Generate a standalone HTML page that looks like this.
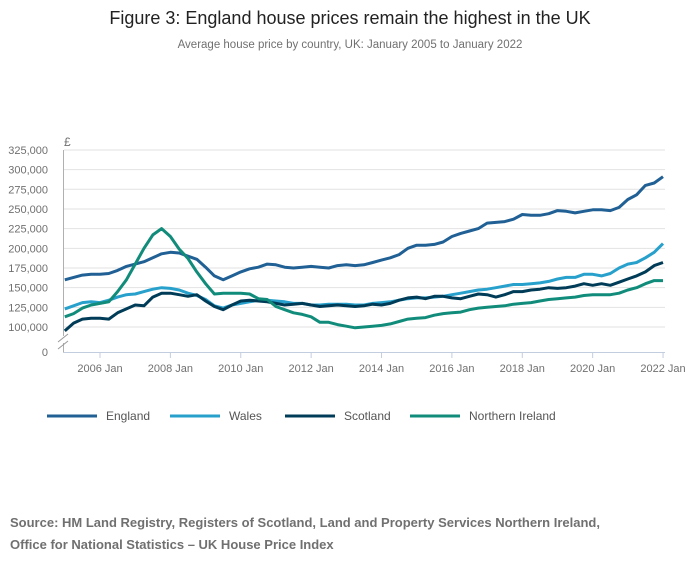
<!DOCTYPE html>
<html><head><meta charset="utf-8"><style>
body{margin:0;background:#fff;font-family:"Liberation Sans",sans-serif}
</style></head><body>
<svg width="700" height="574" viewBox="0 0 700 574" xmlns="http://www.w3.org/2000/svg">
<text x="350" y="24" text-anchor="middle" font-size="18" fill="#222">Figure 3: England house prices remain the highest in the UK</text>
<text x="350" y="48" text-anchor="middle" font-size="11.5" fill="#707070">Average house price by country, UK: January 2005 to January 2022</text>
<g id="grid"></g><g id="axes"></g><g id="series"></g>
<g id="legend"></g>
<text x="10" y="527" font-size="13" font-weight="bold" fill="#707070">Source: HM Land Registry, Registers of Scotland, Land and Property Services Northern Ireland,</text>
<text x="10" y="549" font-size="13" font-weight="bold" fill="#707070">Office for National Statistics – UK House Price Index</text>
</svg>
<script>
const yTicks=[100000,125000,150000,175000,200000,225000,250000,275000,300000,325000];
const xTickYears=[2006,2008,2010,2012,2014,2016,2018,2020,2022];
const seriesNames=["England","Wales","Scotland","Northern Ireland"];
const england=[160,163,166,167,167,168,172,177,180,183,188,193,195,194,190,186,176,165,160,165,170,174,176,180,179,176,175,176,177,176,175,178,179,178,179,182,185,188,192,200,204,204,205,208,215,219,222,225,232,233,234,237,243,242,242,244,248,247,245,247,249,249,248,252,262,268,280,283,291];
const wales=[123,127,131,132,131,134,138,141,142,145,148,150,149,147,143,140,135,127,124,128,130,132,134,134,133,132,130,130,128,128,129,129,129,128,128,130,131,132,134,136,137,137,138,139,141,143,145,147,148,150,152,154,154,155,156,158,161,163,163,167,167,165,168,175,180,182,188,195,206];
const scotland=[95,105,110,111,111,110,118,123,128,127,138,143,143,141,139,141,133,126,122,128,133,134,133,132,130,128,129,130,128,126,127,128,127,126,127,129,128,130,134,137,138,136,139,139,137,136,139,142,141,138,141,145,145,147,148,150,149,150,152,155,153,155,153,157,161,165,170,178,182];
const ni=[113,117,124,128,130,132,145,160,180,200,217,225,215,199,187,170,155,142,143,143,143,142,136,135,126,122,118,116,113,106,106,103,101,99,100,101,102,104,107,110,111,112,115,117,118,119,122,124,125,126,127,129,130,131,133,135,136,137,138,140,141,141,141,143,147,150,155,159,159];
const colors=["#206095","#27a0cc","#003c57","#118c7b"];
const NS="http://www.w3.org/2000/svg";
function el(t,a,p){const e=document.createElementNS(NS,t);for(const k in a)e.setAttribute(k,a[k]);p.appendChild(e);return e;}
const x=yr=>100+(yr-2006)*35.19;
const y=v=>327-(v-100000)/25000*19.67;
const grid=document.getElementById('grid'),axes=document.getElementById('axes'),ser=document.getElementById('series'),leg=document.getElementById('legend');
yTicks.forEach(v=>{
 const l=el('line',{x1:64,x2:665,y1:y(v),y2:y(v),stroke:'#e2e2e2','stroke-width':1},grid);
 
 
 const t=el('text',{x:48,y:y(v)+4,'text-anchor':'end','font-size':11,fill:'#707070'},axes);
 t.textContent=v.toLocaleString('en-GB');
 
 
});
const z=el('text',{x:48,y:356,'text-anchor':'end','font-size':11,fill:'#707070'},axes);z.textContent='0';


const pd=el('text',{x:64,y:146,'font-size':12,fill:'#707070'},axes);pd.textContent='£';


el('line',{x1:63.5,x2:63.5,y1:150,y2:336,stroke:'#b0b0b0'},axes);
el('line',{x1:63.5,x2:63.5,y1:343,y2:352,stroke:'#b0b0b0'},axes);
el('line',{x1:58,x2:68,y1:342,y2:334,stroke:'#999'},axes);
el('line',{x1:58,x2:68,y1:349,y2:341,stroke:'#999'},axes);
el('line',{x1:63,x2:665,y1:352.5,y2:352.5,stroke:'#c3cde0'},axes);
xTickYears.forEach(yr=>{
 el('line',{x1:x(yr),x2:x(yr),y1:352,y2:358,stroke:'#c3cde0'},axes);
 const t=el('text',{x:x(yr),y:372,'text-anchor':'middle','font-size':11,fill:'#707070'},axes);
 t.textContent=yr+' Jan';
 
 
});
[england,wales,scotland,ni].forEach((d,i)=>{
 const pts=d.map((v,j)=>x(2005+j/4).toFixed(1)+','+y(v*1000).toFixed(1)).join(' ');
 const p=el('polyline',{points:pts,fill:'none',stroke:colors[i],'stroke-width':3,'stroke-linejoin':'round'},ser);
 
 
});
const lx=[47,170,285,410];
seriesNames.forEach((n,i)=>{
 el('line',{x1:lx[i],x2:lx[i]+50,y1:416,y2:416,stroke:colors[i],'stroke-width':3},leg);
 const t=el('text',{x:lx[i]+59,y:420,'font-size':12,fill:'#555'},leg);t.textContent=n;
 
 
});
</script>
</body></html>
